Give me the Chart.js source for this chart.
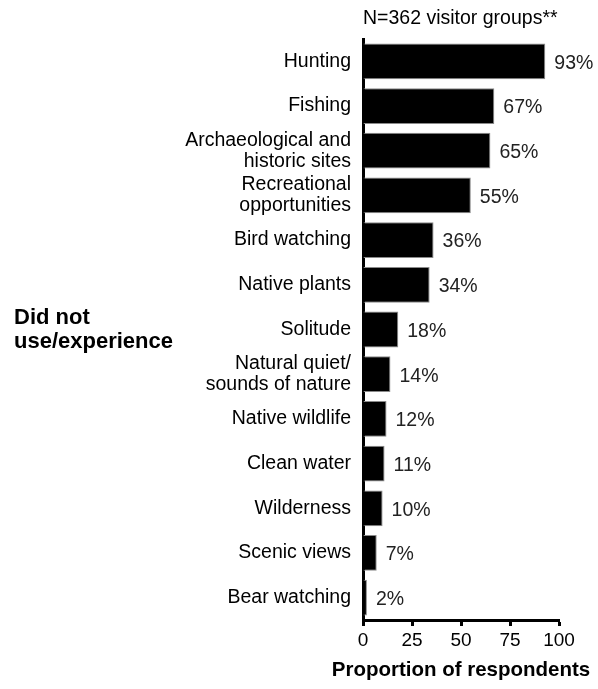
<!DOCTYPE html>
<html>
<head>
<meta charset="utf-8">
<title>Did not use/experience</title>
<script src="https://cdn.jsdelivr.net/npm/chart.js@4.4.1/dist/chart.umd.min.js"></script>
<style>
  html, body { margin: 0; padding: 0; background: #fff; }
  #wrap { position: relative; width: 598px; height: 689px; }
</style>
</head>
<body>
<div id="wrap"><canvas id="chart"></canvas></div>
<script>
// categories, top to bottom
const categories = [
  "Hunting",
  "Fishing",
  ["Archaeological and", "historic sites"],
  ["Recreational", "opportunities"],
  "Bird watching",
  "Native plants",
  "Solitude",
  ["Natural quiet/", "sounds of nature"],
  "Native wildlife",
  "Clean water",
  "Wilderness",
  "Scenic views",
  "Bear watching"
];
const didNotUse = [93, 67, 65, 55, 36, 34, 18, 14, 12, 11, 10, 7, 2];
const xTicks = [0, 25, 50, 75, 100];

const FONT = "'Liberation Sans', Arial, sans-serif";

/*===== EXTRA TEXT: value labels, titles, side label =====*/
const extraText = {
  id: "extraText",
  afterDatasetsDraw(chart) {
    const ctx = chart.ctx;
    const area = chart.chartArea;
    ctx.save();
    ctx.fillStyle = "#222";
    ctx.font = "19.5px " + FONT;
    ctx.textAlign = "left";
    ctx.textBaseline = "middle";
    chart.getDatasetMeta(0).data.forEach((bar, i) => {
      ctx.fillText(didNotUse[i] + "%", bar.x + 9, bar.y + 2);
    });

    // sample size above the plot
    ctx.fillStyle = "#000";
    ctx.font = "19.5px " + FONT;
    ctx.fillText("N=362 visitor groups**", area.left, 19);

    // group label on the far left
    ctx.font = "bold 22px " + FONT;
    ctx.fillText("Did not", 14, 318);
    ctx.fillText("use/experience", 14, 342);

    // x axis title (wider than the plot, so drawn here)
    ctx.font = "bold 20.5px " + FONT;
    ctx.textAlign = "center";
    ctx.fillText("Proportion of respondents", (area.left + area.right) / 2, 670);
    ctx.restore();
  }
};

const ctx = document.getElementById("chart").getContext("2d");
const chart = new Chart(ctx, {
  type: "bar",
  data: {
    labels: categories,
    datasets: [{
      data: didNotUse,
      backgroundColor: "#000",
      borderColor: "#8a8a8a",
      borderWidth: 1,
      borderSkipped: "start",
      barPercentage: 0.8,
      categoryPercentage: 1
    }]
  },
  options: {
    indexAxis: "y",
    responsive: true,
    maintainAspectRatio: false,
    animation: false,
    layout: { padding: { top: 39, right: 39, left: 0, bottom: 0 } },
    plugins: {
      legend: { display: false },
      tooltip: { enabled: false }
    },
    scales: {
      x: {
        min: 0,
        max: 100,
        afterBuildTicks: (axis) => {
          axis.ticks = xTicks.map((v) => ({ value: v }));
        },
        afterFit: (axis) => { axis.height = 69; },
        border: { display: true, color: "#000", width: 3 },
        grid: {
          drawOnChartArea: false,
          drawTicks: true,
          tickLength: 6,
          tickColor: "#000",
          tickWidth: 3
        },
        ticks: {
          color: "#000",
          padding: 3,
          maxRotation: 0,
          font: { family: FONT, size: 19 }
        }
      },
      y: {
        afterFit: (axis) => { axis.width = 363; },
        border: { display: true, color: "#000", width: 3 },
        grid: { display: false },
        ticks: {
          color: "#000",
          padding: 4,
          autoSkip: false,
          font: { family: FONT, size: 19.5, lineHeight: 1.08 }
        }
      }
    }
  },
  plugins: [extraText]
});
</script>
</body>
</html>
